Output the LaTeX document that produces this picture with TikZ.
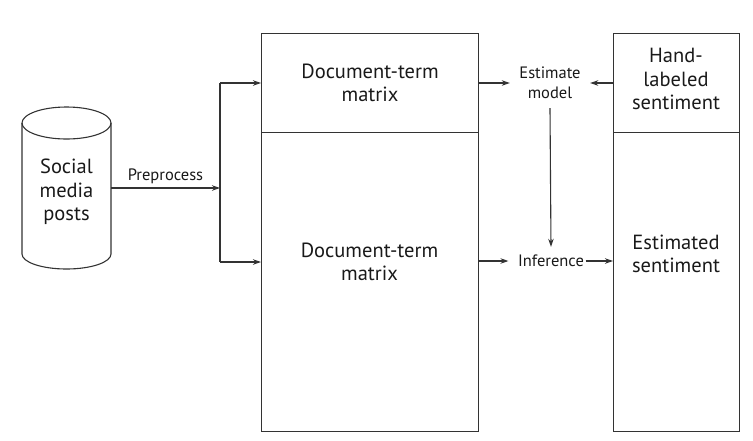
\documentclass[tikz,border=0pt]{standalone}
\usepackage{fontspec}
\setmainfont{PT Sans}
\usetikzlibrary{arrows.meta}
\begin{document}
\begin{tikzpicture}[x=1pt,y=-1pt,
  ln/.style={line width=1.1pt,draw=black!80},
  arr/.style={ln,-{Stealth[length=8pt,width=5.5pt]}},
  box/.style={ln,rectangle,inner sep=0pt,anchor=north west},
  big/.style={font=\fontsize{20.5}{23.5}\selectfont,align=center,text=black!90,inner sep=0pt},
  small/.style={font=\fontsize{16.5}{20}\selectfont,align=center,text=black!90,inner sep=0pt}]
\useasboundingbox (0,0) rectangle (753,440);
% cylinder
\draw[ln] (22pt,-123pt) -- (22pt,-254pt) arc[start angle=180,end angle=360,x radius=44.5pt,y radius=15pt] -- (111pt,-123pt);
\draw[ln] (66.5,123) ellipse [x radius=44.5pt,y radius=16pt];
\node[big] (posts) at (66.5,192) {Social\\media\\posts};
\coordinate (cylR) at (111,188);
\coordinate (split) at (220,188);
% main boxes
\node[box,minimum width=217pt,minimum height=99pt] (dtm1) at (261,33) {};
\node[big] (dtm1t) at (dtm1.center) {Document-term\\matrix};
\node[box,minimum width=217pt,minimum height=299pt] (dtm2) at (261,132) {};
\node[big] (dtm2t) at (369.5,262) {Document-term\\matrix};
% right boxes
\node[box,minimum width=126pt,minimum height=99pt] (hand) at (613,33) {};
\node[big] (handt) at (676,79) {Hand-\\labeled\\sentiment};
\node[box,minimum width=126pt,minimum height=299pt] (estb) at (613,132) {};
\node[big] (estt) at (676,254) {Estimated\\sentiment};
% middle labels
\node[small,minimum width=80pt,minimum height=50pt] (est) at (550,83) {Estimate\\model};
\node[small,minimum height=28pt,inner xsep=1.5pt] (inf) at (551,261) {Inference};
% connectors
\draw[arr] (cylR) -- node[small,above=4pt] (pre) {Preprocess} (split);
\coordinate (up) at (220,83);
\coordinate (dn) at (220,262);
\draw[ln] (up) -- (dn);
\draw[arr] (up) -- (dtm1.west |- up);
\draw[arr] (dn) -- (dtm2.west |- dn);
\draw[arr] (dtm1.east |- est) -- (est.west);
\draw[arr] (hand.west |- est) -- (est.east);
\draw[arr] (est.south) -- (inf.north);
\draw[arr,shorten >=8pt] (dtm2.east |- inf) -- (inf.west);
\draw[arr] (inf.east) -- (estb.west |- inf);
\end{tikzpicture}
\end{document}
